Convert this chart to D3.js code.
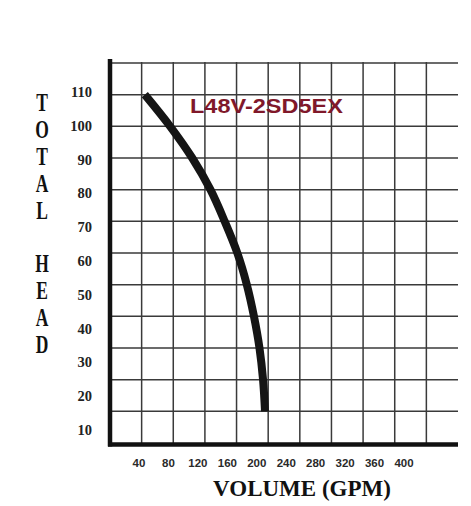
<!DOCTYPE html>
<html>
<head>
<meta charset="utf-8">
<style>
  html, body { margin: 0; padding: 0; background: #fff; }
  svg { display: block; }
</style>
</head>
<body>
<svg id="root"></svg>
<script src="https://cdn.jsdelivr.net/npm/d3@7"></script>
<script>
// pump curve: flow (GPM) vs total head
const flow = [44, 76, 104, 127, 145, 161, 173, 182, 189, 193.5, 196];
const head = [110, 100, 90, 80, 70, 60, 50, 40, 30, 20, 10];

const xTicks = [40, 80, 120, 160, 200, 240, 280, 320, 360, 400];
const yTicks = [110, 100, 90, 80, 70, 60, 50, 40, 30, 20, 10];
const yTitle = "TOTAL HEAD".split("");
const modelName = "L48V-2SD5EX";

class PumpChart {
  width = 471;
  height = 506;
  plot = { left: 110, right: 458, top: 63, bottom: 443 };
  svg = null;

  init() {
    this.svg = d3.select("#root").attr("width", this.width).attr("height", this.height);
    this.setupScales();
    this.drawGrid();
    this.drawCurve();
    this.drawLabels();
  }

  setupScales = () => {
    this.x = d3.scaleLinear().domain([0, 440]).range([this.plot.left, this.plot.right]);
    this.y = d3.scaleLinear().domain([0, 120]).range([this.plot.bottom, this.plot.top]);
    // the printed tick labels don't sit on the grid lines in the original
    this.xLabel = d3.scaleLinear().domain([40, 400]).range([139, 404]);
    this.yLabel = d3.scaleLinear().domain([10, 110]).range([430, 92]);
  };

  drawGrid = () => {
    const g = this.svg.append("g").attr("class", "grid");

    g.selectAll(".vline")
      .data(xTicks)
      .enter()
      .append("line")
      .attr("class", "vline")
      .attr("x1", (d) => this.x(d))
      .attr("x2", (d) => this.x(d))
      .attr("y1", this.y(120) - 1)
      .attr("y2", this.y(0))
      .attr("stroke", "#3a3a3a")
      .attr("stroke-width", 1.5);

    g.selectAll(".hline")
      .data(d3.range(10, 121, 10))
      .enter()
      .append("line")
      .attr("class", "hline")
      .attr("x1", this.x(0))
      .attr("x2", this.x(440))
      .attr("y1", (d) => this.y(d))
      .attr("y2", (d) => this.y(d))
      .attr("stroke", "#3a3a3a")
      .attr("stroke-width", 1.5);

    // heavy axes
    g.append("line")
      .attr("x1", this.x(0))
      .attr("x2", this.x(0))
      .attr("y1", this.y(120) - 4)
      .attr("y2", this.y(0) + 3.5)
      .attr("stroke", "#111")
      .attr("stroke-width", 4.5);
    g.append("line")
      .attr("x1", this.x(0) - 2)
      .attr("x2", this.x(440))
      .attr("y1", this.y(0) + 1.5)
      .attr("y2", this.y(0) + 1.5)
      .attr("stroke", "#111")
      .attr("stroke-width", 4.5);
  };

  drawCurve = () => {
    const pts = flow.map((f, i) => [f, head[i]]);
    const line = d3
      .line()
      .x((d) => this.x(d[0]))
      .y((d) => this.y(d[1]))
      .curve(d3.curveCatmullRom);

    this.svg
      .append("path")
      .datum(pts)
      .attr("d", line)
      .attr("fill", "none")
      .attr("stroke", "#151515")
      .attr("stroke-width", 8)
      .attr("stroke-linecap", "butt");

    this.svg
      .append("text")
      .attr("x", 190)
      .attr("y", 113)
      .attr("textLength", 153)
      .attr("lengthAdjust", "spacingAndGlyphs")
      .style("font-family", "'Liberation Sans', Arial, sans-serif")
      .style("font-weight", "bold")
      .style("font-size", "21px")
      .attr("fill", "#80182a")
      .text(modelName);
  };

  drawLabels = () => {
    const serif = "'Liberation Serif', 'Times New Roman', serif";

    this.svg
      .selectAll(".ytick")
      .data(yTicks)
      .enter()
      .append("text")
      .attr("class", "ytick")
      .attr("x", 92)
      .attr("y", (d) => this.yLabel(d) + 5)
      .attr("text-anchor", "end")
      .style("font-family", serif)
      .style("font-weight", "bold")
      .style("font-size", "14.5px")
      .attr("fill", "#222")
      .text((d) => d);

    this.svg
      .selectAll(".xtick")
      .data(xTicks)
      .enter()
      .append("text")
      .attr("class", "xtick")
      .attr("x", (d) => this.xLabel(d))
      .attr("y", 467)
      .attr("text-anchor", "middle")
      .style("font-family", "'Liberation Sans', Arial, sans-serif")
      .style("font-weight", "bold")
      .style("font-size", "11.5px")
      .attr("fill", "#2a2a2a")
      .text((d) => d);

    // stacked vertical title, letters stretched tall like the print
    const titleY = d3.scalePoint().domain(d3.range(yTitle.length)).range([103, 345]);
    this.svg
      .selectAll(".ytitle")
      .data(yTitle)
      .enter()
      .append("text")
      .attr("class", "ytitle")
      .attr("transform", (d, i) => `translate(42, ${titleY(i) + 8}) scale(1, 1.4)`)
      .attr("text-anchor", "middle")
      .style("font-family", serif)
      .style("font-weight", "bold")
      .style("font-size", "17.5px")
      .attr("fill", "#111")
      .text((d) => d);

    this.svg
      .append("text")
      .attr("x", 302)
      .attr("y", 496)
      .attr("text-anchor", "middle")
      .style("font-family", serif)
      .style("font-weight", "bold")
      .style("font-size", "23px")
      .attr("fill", "#111")
      .text("VOLUME (GPM)");
  };
}

function main() {
  const chart = new PumpChart();
  chart.init();
}

main();
</script>
</body>
</html>
